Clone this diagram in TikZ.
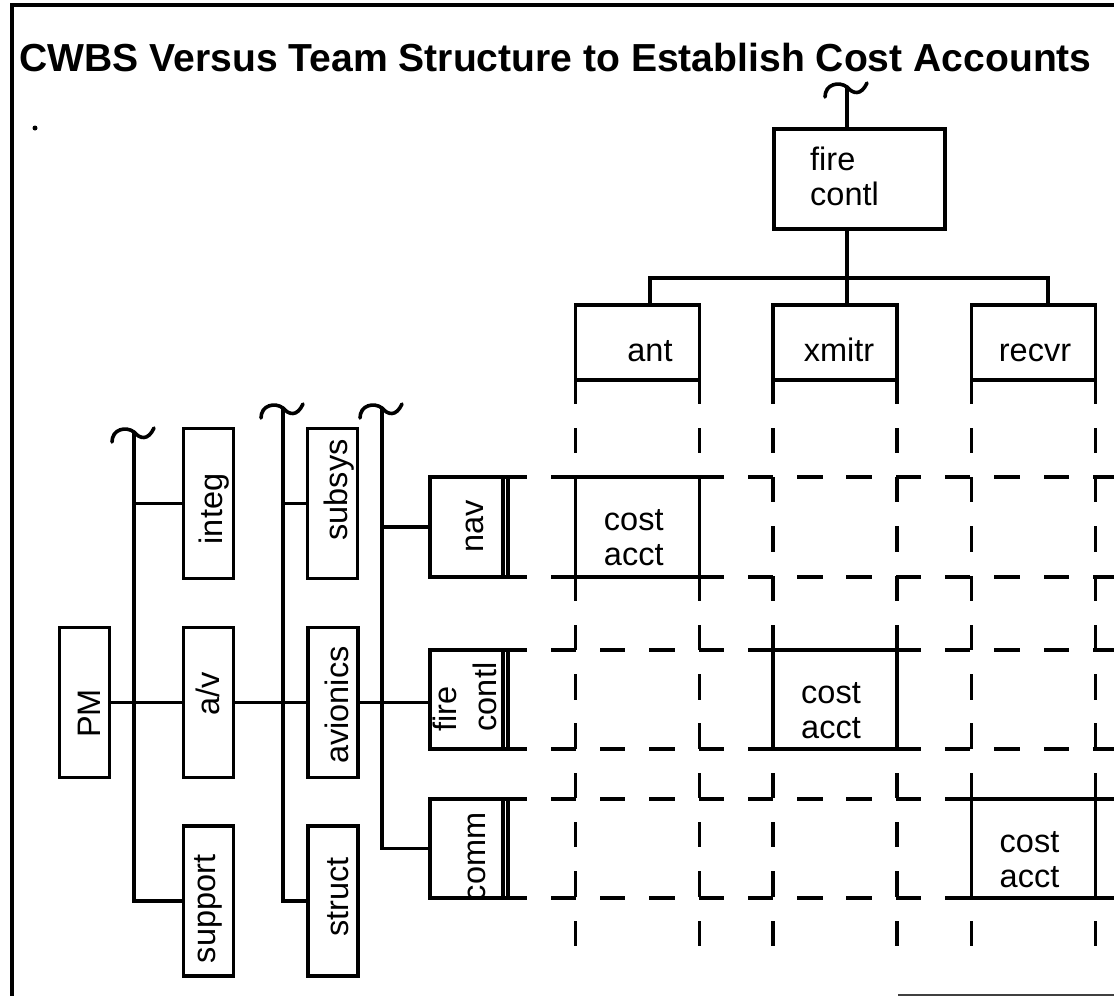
\documentclass[tikz,border=0pt]{standalone}
\usepackage{fontspec}
\setmainfont{Liberation Sans}
\begin{document}
\begin{tikzpicture}[x=1pt,y=-1pt,
  ln/.style={line width=3.4pt},
  box/.style={draw, line width=3.4pt, inner sep=0pt, outer sep=0pt},
  vbox/.style={box, minimum width=50pt, minimum height=150pt},
  rbox/.style={box, minimum width=73pt, minimum height=100pt},
  cbox/.style={box, minimum width=124pt, minimum height=75pt},
  abox/.style={box, minimum width=124pt, minimum height=100pt},
  gridline/.style={line width=3.4pt, line cap=rect, dash pattern=on 22pt off 27.3pt},
  lbl/.style={font=\fontsize{32.5}{35}\selectfont, inner sep=0pt},
  rl/.style={lbl, rotate=90},
  brk/.pic={\draw[line width=3.6pt, line cap=round]
     (-22,11) .. controls (-22,-2) and (-8,-5) .. (0,1)
             .. controls (6,8) and (14,10) .. (20,-3);}
]
\useasboundingbox (0,0) rectangle (1114,996);

% frame and title
\draw[ln] (12,996) -- (12,5) -- (1114,5);
\draw[line width=1.2pt, black!75] (898,995) -- (1114,995);
\fill (35,128) circle (2.5pt);
\node[anchor=base west, inner sep=0pt, font=\bfseries\fontsize{39.1}{40}\selectfont]
  (title) at (19,71) {CWBS Versus Team Structure to Establish Cost Accounts};

% team structure (top)
\node[box, minimum width=171pt, minimum height=100pt] (fc) at (859.5,179) {};
\node[lbl, align=left, anchor=west] (fc-t) at (810,176) {fire\\contl};
\node[cbox] (ant)   at (637.75,342.5) {};
\node[cbox] (xmitr) at (835,342.5) {};
\node[cbox] (recvr) at (1033.5,342.5) {};
\node[lbl, anchor=base] (ant-t)   at (650,361) {ant};
\node[lbl, anchor=base] (xmitr-t) at (839,361) {xmitr};
\node[lbl, anchor=base] (recvr-t) at (1035,361) {recvr};

\coordinate (t0) at (847,86);
\draw[ln] (t0) -- (fc.north -| t0);
\pic at (t0) {brk};
\coordinate (bus)  at (847,278);
\coordinate (busL) at (650,278);
\coordinate (busR) at (1048,278);
\draw[ln] (fc.south -| bus) -- (bus);
\draw[ln] (ant.north -| busL) -- (busL) -- (busR) -- (recvr.north -| busR);
\draw[ln] (bus) -- (xmitr.north -| bus);

% CWBS (left)
\node[vbox] (PM)       at (84.5,702.5) {};
\node[vbox] (integ)    at (208.5,503.5) {};
\node[vbox] (av)       at (208.5,702.5) {};
\node[vbox] (support)  at (208.5,901) {};
\node[vbox] (subsys)   at (332.5,503.5) {};
\node[vbox] (avionics) at (333,702.5) {};
\node[vbox] (struct)   at (333,901) {};
\node[rbox] (nav)      at (466.5,527) {};
\node[rbox, minimum height=99pt] (fcl)  at (466.5,699.5) {};
\node[rbox, minimum height=99pt] (comm) at (466.5,848.5) {};

\node[rl, anchor=base] (PM-t)       at (100,713.5) {PM};
\node[rl, anchor=base] (integ-t)    at (222,509)   {integ};
\node[rl, anchor=base] (av-t)       at (219,693.5) {a/v};
\node[rl, anchor=base] (support-t)  at (215,909)   {support};
\node[rl, anchor=base] (subsys-t)   at (347,490)   {subsys};
\node[rl, anchor=base] (avionics-t) at (348,705)   {avionics};
\node[rl, anchor=base] (struct-t)   at (348,897)   {struct};
\node[rl, anchor=base] (nav-t)      at (483,526)   {nav};
\node[rl, align=left]  (fcl-t)      at (465,697)   {fire\\[5pt]contl};
\node[rl, anchor=base] (comm-t)     at (485,857)   {comm};

\coordinate (t1) at (134,431);
\coordinate (t2) at (283,407);
\coordinate (t3) at (382,407);
\foreach \t in {t1,t2,t3} \pic at (\t) {brk};
\draw[ln] (t1) |- (support.west);
\draw[ln] (t2) |- (struct.west);
\draw[ln] (t3) |- (comm.west);
\draw[ln] (t1 |- integ.west) -- (integ.west);
\draw[ln] (t2 |- subsys.west) -- (subsys.west);
\draw[ln] (t3 |- nav.west) -- (nav.west);
\draw[ln] (PM.east) -- (av.west);
\draw[ln] (av.east) -- (avionics.west);
\draw[ln] (avionics.east) -- (avionics.east -| fcl.west);

% responsibility matrix
\foreach \n in {ant,xmitr,recvr} {
  \draw[gridline] (\n.south west) -- ++(0,568);
  \draw[gridline] (\n.south east) -- ++(0,568);
}
\foreach \n in {nav,fcl,comm} {
  \draw[gridline] (\n.north east) -- ++(611,0);
  \draw[gridline] (\n.south east) -- ++(611,0);
  \draw[ln] ([xshift=5pt]\n.north east) -- ([xshift=5pt]\n.south east);
}

% cost accounts
\node[abox] (ca1) at (ant.center |- nav.center) {};
\node[abox, minimum height=99pt] (ca2) at (xmitr.center |- fcl.center) {};
\node[abox, minimum height=99pt] (ca3) at (recvr.center |- comm.center) {};
\foreach \c in {ca1,ca2,ca3}
  \node[lbl, align=left] (\c-t) at ([shift={(-4,11)}]\c.center) {cost\\acct};
\end{tikzpicture}
\end{document}
